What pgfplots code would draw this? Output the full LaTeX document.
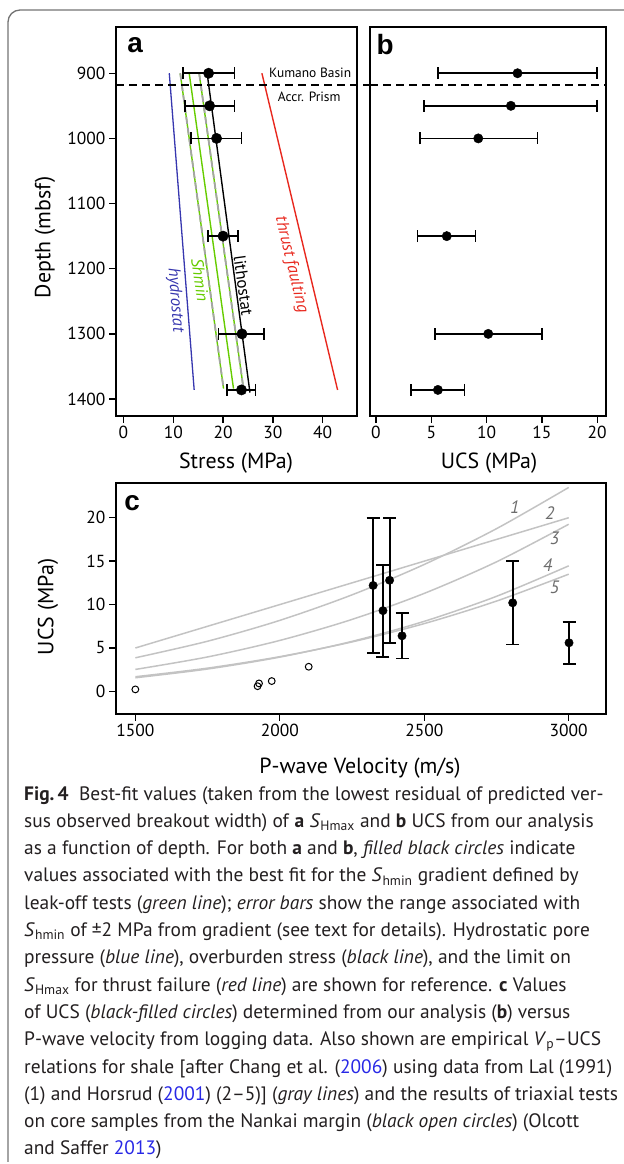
\documentclass[border=0pt]{standalone}
\usepackage{pgfplots}
\pgfplotsset{compat=1.18}
\usepackage{fontspec}
\setmainfont{PT Sans}
\newfontfamily\helv{Liberation Sans}
\definecolor{hydro}{RGB}{55,55,175}
\definecolor{shg}{RGB}{102,204,0}
\definecolor{thr}{RGB}{232,40,30}
\definecolor{dgray}{RGB}{165,165,165}
\definecolor{cgray}{RGB}{195,195,195}
\definecolor{lnk}{RGB}{40,40,230}
\definecolor{framec}{RGB}{115,115,115}
\definecolor{txt}{RGB}{35,31,32}
\pgfplotsset{
  myax/.style={scale only axis, anchor=south west,
    axis line style={line width=1.6bp},
    tick style={line width=1.3bp, black},
    tick align=outside, major tick length=7bp,
    xtick pos=bottom, ytick pos=left,
    every tick label/.append style={font=\fontsize{17.5}{20}\selectfont},
    /pgf/number format/assume math mode=true,
    /pgf/number format/1000 sep={},
    clip=false},
  ptA/.style={only marks, mark=*, mark size=#1, black,
    error bars/.cd, x dir=both, x explicit,
    error bar style={line width=1.8bp, black},
    error mark options={rotate=90, line width=1.8bp, mark size=6bp, black}},
}
\begin{document}
\begin{tikzpicture}[x=1bp,y=1bp]
\path[use as bounding box] (0,0) rectangle (624,1164);
\draw[framec, line width=1.3bp, rounded corners=12bp] (624,1154) -- (8,1154) -- (8,2);

% ---------- panel a ----------
\begin{axis}[myax, at={(116bp,748bp)}, width=241bp, height=389bp,
  xmin=-1.5, xmax=46.9, ymin=829, ymax=1426, y dir=reverse,
  xtick={0,10,...,40}, ytick={900,1000,...,1400}]
\addplot[hydro, line width=1.3bp] coordinates {(9.2,900) (14.2,1386)};
\addplot[shg, line width=1.4bp] coordinates {(11.4,900) (20.1,1384)};
\addplot[dgray, line width=1.8bp, dash pattern=on 7bp off 4bp] coordinates {(11.4,900) (20.1,1384)};
\addplot[shg, line width=1.4bp] coordinates {(15.2,900) (24.1,1384)};
\addplot[dgray, line width=1.8bp, dash pattern=on 7bp off 4bp] coordinates {(15.2,900) (24.1,1384)};
\addplot[shg, line width=1.4bp] coordinates {(13.2,900) (22.1,1384)};
\addplot[black, line width=1.4bp] coordinates {(16.8,900) (25.4,1390)};
\addplot[thr, line width=1.4bp] coordinates {(27.8,900) (43.0,1386)};
\addplot[black, line width=1.6bp, dash pattern=on 8bp off 5bp] coordinates {(-1.5,918) (49.5,918)};
\addplot[ptA=5.2bp] coordinates {
  (17.1,900) += (5.2,0) -= (5.2,0)
  (17.3,950) += (5.0,0) -= (5.0,0)
  (18.7,1000) += (5.0,0) -= (5.2,0)
  (20.0,1150) += (3.0,0) -= (3.1,0)
  (23.8,1300) += (4.5,0) -= (4.7,0)
  (23.7,1386) += (2.8,0) -= (2.9,0)};
\node[font=\helv\bfseries\fontsize{28}{30}\selectfont] at (rel axis cs:0.079,0.954) {a};
\node[font=\fontsize{13.5}{15}\selectfont] at (axis cs:37.5,900) {Kumano Basin};
\node[font=\fontsize{13.5}{15}\selectfont] at (axis cs:37.3,936) {Accr. Prism};
\node[hydro, rotate=-85.5, font=\itshape\fontsize{17}{19}\selectfont] at (axis cs:10.4,1248) {hydrostat};
\node[shg, rotate=-81.5, font=\itshape\fontsize{17}{19}\selectfont] at (axis cs:15.4,1217) {Shmin};
\node[black, rotate=-82.2, font=\fontsize{17}{19}\selectfont] at (axis cs:24.1,1226) {lithostat};
\node[thr, rotate=-76.6, font=\itshape\fontsize{17}{19}\selectfont] at (axis cs:33.7,1194) {thrust faulting};
\end{axis}

% ---------- panel b ----------
\begin{axis}[myax, at={(370bp,748bp)}, width=236bp, height=389bp,
  xmin=-0.54, xmax=20.8, ymin=829, ymax=1426, y dir=reverse,
  xtick={0,5,...,20}, ytick=\empty]
\addplot[black, line width=1.6bp, dash pattern=on 8bp off 5bp] coordinates {(-0.54,918) (20.8,918)};
\addplot[ptA=4.7bp] coordinates {
  (12.8,900) += (7.2,0) -= (7.2,0)
  (12.2,950) += (7.8,0) -= (7.85,0)
  (9.25,1000) += (5.35,0) -= (5.25,0)
  (6.4,1150) += (2.6,0) -= (2.64,0)
  (10.15,1300) += (4.85,0) -= (4.8,0)
  (5.6,1386) += (2.4,0) -= (2.45,0)};
\node[font=\helv\bfseries\fontsize{28}{30}\selectfont] at (rel axis cs:0.064,0.954) {b};
\end{axis}

% ---------- panel c ----------
\begin{axis}[myax, at={(116bp,450bp)}, width=490bp, height=231bp,
  xmin=1433, xmax=3129, ymin=-2.6, ymax=24.0,
  xtick={1500,2000,2500,3000}, ytick={0,5,...,20}]
\addplot[cgray, line width=1.5bp, smooth] coordinates {(1500,3.87) (1750,5.78) (2000,8.18) (2250,11.12) (2500,14.62) (2750,18.74) (3000,23.49)};
\addplot[cgray, line width=1.5bp] coordinates {(1500,5.0) (2000,10.0) (2500,15.0) (3000,20.0)};
\addplot[cgray, line width=1.5bp, smooth] coordinates {(1500,2.53) (1750,3.97) (2000,5.87) (2250,8.29) (2500,11.29) (2750,14.92) (3000,19.25)};
\addplot[cgray, line width=1.5bp, smooth] coordinates {(1500,1.57) (1750,2.58) (2000,3.95) (2250,5.76) (2500,8.07) (2750,10.95) (3000,14.46)};
\addplot[cgray, line width=1.5bp, smooth] coordinates {(1500,1.69) (1750,2.68) (2000,4.0) (2250,5.70) (2500,7.81) (2750,10.40) (3000,13.5)};
\addplot[only marks, mark=o, mark size=3.4bp, black, line width=1bp] coordinates {(1500,0.23) (1923,0.6) (1928,0.92) (1972,1.19) (2100,2.84)};
\addplot[only marks, mark=*, mark size=4.2bp, black,
  error bars/.cd, y dir=both, y explicit,
  error bar style={line width=1.8bp, black},
  error mark options={rotate=90, line width=1.8bp, mark size=6.5bp, black}] coordinates {
  (2323,12.2) += (0,7.8) -= (0,7.8)
  (2357,9.3) += (0,5.3) -= (0,5.3)
  (2380,12.8) += (0,7.2) -= (0,7.2)
  (2423,6.4) += (0,2.6) -= (0,2.6)
  (2806,10.2) += (0,4.8) -= (0,4.8)
  (3001,5.6) += (0,2.4) -= (0,2.4)};
\node[font=\helv\bfseries\fontsize{28}{30}\selectfont] at (rel axis cs:0.033,0.912) {c};
\begin{scope}[every node/.style={gray!85!black, font=\itshape\fontsize{18}{20}\selectfont}]
\node at (axis cs:2813,21.2) {1};
\node at (axis cs:2934,20.5) {2};
\node at (axis cs:2951,17.6) {3};
\node at (axis cs:2927,14.5) {4};
\node at (axis cs:2951,12.0) {5};
\end{scope}
\end{axis}

% ---------- axis labels ----------
\begin{scope}[every node/.style={font=\fontsize{22}{26}\selectfont}]
\node at (236,701) {Stress (MPa)};
\node at (489,701) {UCS (MPa)};
\node[rotate=90] at (45,927) {Depth (mbsf)};
\node[rotate=90] at (48,557) {UCS (MPa)};
\node at (360,396) {P-wave Velocity (m/s)};
\end{scope}

% ---------- caption ----------
\node[anchor=north west, align=left, inner sep=0, txt, font=\fontsize{19.5}{27.4}\selectfont] at (24,378) {%
\textbf{Fig.\,4}\ \ Best-fit values (taken from the lowest residual of predicted ver-\\
sus observed breakout width) of \textbf{a} \textit{S}\textsubscript{Hmax} and \textbf{b} UCS from our analysis\\
as a function of depth. For both \textbf{a} and \textbf{b}, \textit{filled black circles} indicate\\
values associated with the best fit for the \textit{S}\textsubscript{hmin} gradient defined by\\
leak-off tests (\textit{green line}); \textit{error bars} show the range associated with\\
\textit{S}\textsubscript{hmin} of ±2 MPa from gradient (see text for details). Hydrostatic pore\\
pressure (\textit{blue line}), overburden stress (\textit{black line}), and the limit on\\
\textit{S}\textsubscript{Hmax} for thrust failure (\textit{red line}) are shown for reference. \textbf{c} Values\\
of UCS (\textit{black-filled circles}) determined from our analysis (\textbf{b}) versus\\
P-wave velocity from logging data. Also shown are empirical \textit{V}\textsubscript{p}–UCS\\
relations for shale [after Chang et al. (\textcolor{lnk}{2006}) using data from Lal (1991)\\
(1) and Horsrud (\textcolor{lnk}{2001}) (2–5)] (\textit{gray lines}) and the results of triaxial tests\\
on core samples from the Nankai margin (\textit{black open circles}) (Olcott\\
and Saffer \textcolor{lnk}{2013})};
\end{tikzpicture}
\end{document}
